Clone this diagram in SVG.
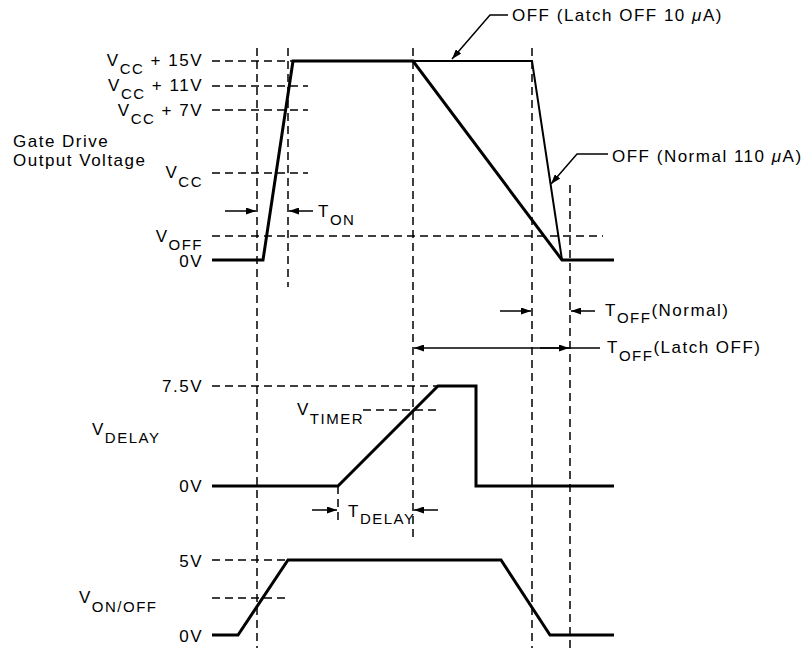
<svg xmlns="http://www.w3.org/2000/svg" width="812" height="648" viewBox="0 0 812 648">
<defs>
<style>
.t{font-family:"Liberation Sans",Arial,sans-serif;font-size:17px;letter-spacing:1.5px;fill:#000}
.s{font-size:15px}
.d{stroke:#000;stroke-width:1.5;stroke-dasharray:8 5;fill:none}
.w{stroke:#000;stroke-width:3;fill:none;stroke-linejoin:miter}
.m{stroke:#000;stroke-width:2;fill:none}
.n{stroke:#000;stroke-width:1.5;fill:none}
.a{marker-end:url(#ah)}
</style>
<marker id="ah" markerUnits="userSpaceOnUse" markerWidth="11" markerHeight="7" refX="10" refY="3.5" orient="auto-start-reverse"><path d="M0,0 L10,3.5 L0,7 z" fill="#000"/></marker>
</defs>
<rect width="812" height="648" fill="#fff"/>
<g id="grid">
<path class="d" d="M257,48 V648 M288,48 V287 M413,48 V537 M532,48 V648 M570,185 V648 M338,486 V523"/>
<path class="d" d="M212,61 H293 M212,86 H308 M212,110 H308 M212,173 H308 M212,236 H603 M212,386 H438 M363,410 H439 M212,560 H288 M212,598 H288"/>
</g>
<g id="waveforms">
<path id="gate-drive" class="w" d="M212,260 H263 L293,61 H413 L562,260 H614"/>
<path id="gate-latch" class="m" d="M413,61 H532 L562,260"/>
<path id="vdelay" class="w" d="M212,486 H338 L438,386 H476 V486 H614"/>
<path id="vonoff" class="w" d="M212,635 H238 L288,560 H501 L550,635 H614"/>
</g>
<g id="connectors">
<path class="n a" d="M225,211 H256"/>
<path class="n a" d="M313,211 H289"/>
<path class="n a" d="M500,311 H531"/>
<path class="n a" d="M595,311 H571"/>
<path class="n" d="M414,348 H600" marker-start="url(#ah)"/>
<path class="n a" d="M540,348 H569"/>
<path class="n a" d="M312,510 H337"/>
<path class="n a" d="M438,510 H414"/>
<path class="n a" d="M508,15 H490 L452,59"/>
<path class="n a" d="M608,154 H577 L551,184"/>
</g>
<g id="labels">
<text class="t" x="203" y="65.5" text-anchor="end">V<tspan class="s" dy="8">CC</tspan><tspan dy="-8"> + 15V</tspan></text>
<text class="t" x="203" y="90.5" text-anchor="end">V<tspan class="s" dy="8">CC</tspan><tspan dy="-8"> + 11V</tspan></text>
<text class="t" x="203" y="115.5" text-anchor="end">V<tspan class="s" dy="8">CC</tspan><tspan dy="-8"> + 7V</tspan></text>
<text class="t" x="203" y="178" text-anchor="end">V<tspan class="s" dy="9">CC</tspan></text>
<text class="t" x="203" y="242" text-anchor="end">V<tspan class="s" dy="8">OFF</tspan></text>
<text class="t" x="203" y="267" text-anchor="end">0V</text>
<text class="t" x="13" y="147">Gate Drive</text>
<text class="t" x="13" y="166">Output Voltage</text>
<text class="t" x="318" y="217">T<tspan class="s" dy="8">ON</tspan></text>
<text class="t" x="512" y="21">OFF (Latch OFF 10 <tspan font-style="italic">μ</tspan>A)</text>
<text class="t" x="612" y="162">OFF (Normal 110 <tspan font-style="italic">μ</tspan>A)</text>
<text class="t" x="605" y="316">T<tspan class="s" dy="7">OFF</tspan><tspan dy="-7">(Normal)</tspan></text>
<text class="t" x="607" y="353">T<tspan class="s" dy="8">OFF</tspan><tspan dy="-8">(Latch OFF)</tspan></text>
<text class="t" x="203" y="392" text-anchor="end">7.5V</text>
<text class="t" x="297" y="415">V<tspan class="s" dy="9">TIMER</tspan></text>
<text class="t" x="92" y="435">V<tspan class="s" dy="8">DELAY</tspan></text>
<text class="t" x="203" y="492" text-anchor="end">0V</text>
<text class="t" x="348" y="517">T<tspan class="s" dy="7">DELAY</tspan></text>
<text class="t" x="203" y="567" text-anchor="end">5V</text>
<text class="t" x="79" y="603">V<tspan class="s" dy="9">ON/OFF</tspan></text>
<text class="t" x="203" y="642" text-anchor="end">0V</text>
</g>
</svg>
